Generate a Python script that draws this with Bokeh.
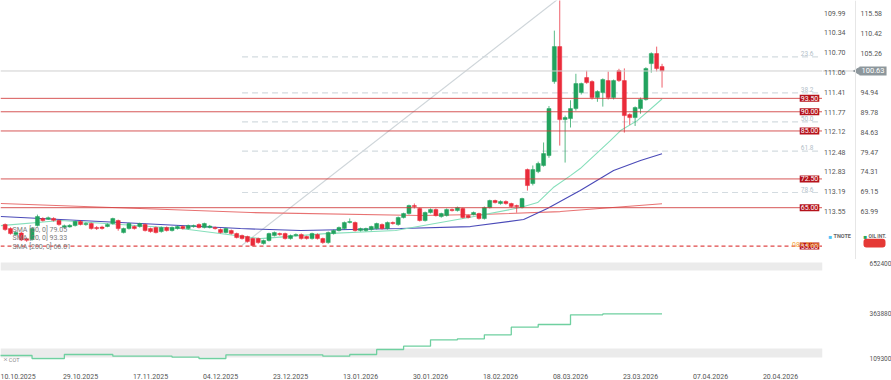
import math
from bokeh.plotting import figure
from bokeh.models import (Range1d, LinearAxis, FixedTicker, PrintfTickFormatter, Span,
                          Label, ColumnDataSource, BoxAnnotation)
from bokeh.layouts import column, row
from bokeh.embed import file_html
from bokeh.resources import INLINE
from bokeh.core.properties import value

# ---------------- data ----------------
date_idx = [0, 13, 26, 39, 52, 65, 78, 91, 104, 117, 130, 143]
date_labels = ["10.10.2025", "29.10.2025", "17.11.2025", "04.12.2025", "23.12.2025", "13.01.2026",
               "30.01.2026", "18.02.2026", "08.03.2026", "23.03.2026", "07.04.2026", "20.04.2026"]

first_idx = -1
opens = [60.61, 59.56, 57.99, 58.40, 56.90, 56.70, 60.34, 62.17, 62.00, 62.20, 61.65, 59.90, 60.00, 60.34,
         61.39, 60.60, 60.87, 59.82, 59.95, 60.10, 60.87, 61.65, 58.51, 59.56, 60.10, 60.10, 60.61, 59.56,
         59.82, 58.78, 59.82, 59.04, 59.56, 60.08, 59.56, 60.08, 60.61, 59.82, 59.82, 59.82, 59.30, 58.51,
         59.04, 58.25, 57.73, 57.48, 56.95, 56.95, 55.65, 56.44, 57.73, 58.25, 58.25, 56.95, 57.73, 57.99,
         57.48, 56.95, 57.99, 56.95, 55.91, 58.25, 59.04, 59.56, 61.13, 61.13, 59.04, 59.04, 59.30, 59.56,
         60.61, 59.56, 61.13, 60.61, 62.43, 63.47, 65.55, 64.77, 61.65, 63.73, 64.51, 62.69, 62.95, 64.51,
         64.25, 64.77, 62.95, 63.21, 63.47, 62.17, 65.03, 66.86, 66.08, 66.60, 66.08, 65.55, 65.03, 74.93,
         71.29, 74.41, 75.98, 78.58, 97.86, 106.98, 87.96, 88.22, 90.83, 95.00, 98.90, 97.86, 93.69, 95.00,
         98.12, 93.69, 100.73, 98.12, 89.26, 88.48, 90.83, 93.17, 102.55, 105.16, 101.77]
highs = [60.9, 59.9, 58.8, 58.7, 57.2, 59.9, 63.2, 62.5, 62.7, 62.5, 61.9, 60.6, 60.7, 61.6,
         61.8, 61.2, 61.1, 60.2, 60.3, 60.9, 62.4, 61.9, 59.8, 61.1, 60.4, 61.1, 60.9, 59.8,
         60.1, 60.1, 60.1, 60.1, 60.4, 60.4, 60.6, 60.6, 60.9, 61.1, 60.5, 60.1, 59.6, 59.8,
         59.3, 58.5, 58.0, 57.7, 57.2, 57.2, 56.7, 58.5, 58.8, 58.5, 58.5, 58.0, 58.3, 58.3,
         57.7, 58.5, 58.3, 57.2, 58.8, 59.3, 60.1, 61.4, 62.2, 61.4, 59.8, 59.8, 60.3, 61.1,
         60.9, 61.4, 61.4, 62.7, 63.7, 65.8, 66.1, 65.0, 64.0, 64.8, 64.8, 63.7, 64.8, 64.8,
         65.3, 65.0, 63.2, 64.0, 63.7, 65.3, 67.1, 67.1, 66.9, 66.9, 66.3, 65.8, 67.6, 75.2,
         76.0, 77.0, 82.0, 91.5, 111.15, 119.5, 89.0, 93.0, 99.9, 97.6, 100.7, 98.2, 95.6, 98.7,
         100.47, 98.4, 101.2, 101.3, 89.6, 91.4, 93.7, 101.6, 105.5, 106.98, 102.5]
lows = [59.0, 58.0, 57.7, 56.3, 56.1, 56.4, 60.1, 61.4, 61.8, 61.4, 60.3, 59.6, 59.8, 60.1,
        60.4, 60.3, 59.3, 59.2, 59.3, 59.9, 60.6, 59.0, 58.3, 59.3, 59.3, 59.8, 58.8, 58.5,
        58.3, 58.5, 58.8, 58.8, 59.3, 59.3, 59.3, 59.8, 59.6, 59.6, 59.6, 59.3, 58.3, 58.3,
        58.0, 57.0, 56.7, 55.9, 54.9, 55.6, 55.4, 56.2, 57.5, 57.7, 56.7, 56.7, 57.5, 56.7,
        56.7, 56.7, 56.7, 55.6, 55.6, 58.0, 58.8, 59.3, 60.9, 58.8, 58.8, 58.8, 59.0, 59.3,
        59.3, 59.3, 60.6, 60.3, 62.2, 63.2, 64.8, 61.4, 61.4, 63.5, 62.7, 62.4, 62.7, 64.0,
        64.0, 62.2, 62.2, 63.0, 61.9, 61.9, 64.8, 66.1, 65.8, 65.8, 65.0, 63.7, 64.8, 69.46,
        70.8, 74.0, 75.7, 78.0, 97.3, 81.19, 76.76, 85.9, 90.3, 94.5, 97.3, 93.2, 92.6, 91.35,
        93.2, 93.2, 97.8, 84.57, 86.6, 86.3, 89.5, 92.9, 100.2, 100.5, 96.3]
closes = [59.30, 58.25, 58.51, 56.60, 56.50, 59.60, 62.69, 61.65, 62.40, 61.70, 60.61, 60.30, 60.40, 61.39,
          60.61, 60.90, 59.56, 59.56, 59.60, 60.60, 62.17, 59.56, 59.56, 60.87, 59.56, 60.87, 59.04, 58.78,
          58.51, 59.82, 59.04, 59.82, 60.08, 59.56, 60.34, 60.34, 59.82, 60.87, 60.20, 59.56, 58.51, 59.56,
          58.25, 57.21, 56.95, 56.17, 55.13, 55.91, 56.44, 58.25, 58.51, 57.99, 56.95, 57.73, 57.99, 56.95,
          56.95, 58.25, 56.95, 55.91, 58.51, 59.04, 59.82, 61.13, 61.39, 59.04, 59.56, 59.56, 60.08, 60.87,
          59.56, 61.13, 60.87, 62.43, 63.47, 65.55, 65.29, 61.65, 63.73, 64.51, 62.95, 63.47, 64.51, 64.25,
          65.03, 62.43, 62.43, 63.73, 62.17, 65.03, 66.86, 66.34, 66.60, 66.08, 65.29, 65.29, 67.38, 70.77,
          74.93, 76.50, 79.10, 90.83, 106.98, 87.96, 88.48, 90.83, 97.34, 97.34, 97.60, 93.69, 95.26, 98.38,
          93.69, 98.12, 98.12, 89.00, 88.48, 91.09, 93.17, 101.25, 105.16, 101.25, 100.63]

sma20_x = [-1.8, 9.3, 20.4, 31.6, 41.8, 46.4, 58.5, 71.5, 85.1, 94.7, 97.9, 100.8, 104.0, 105.8, 111.4, 113.3, 116.4, 121]
sma20_y = [60.34, 61.65, 60.61, 59.56, 57.74, 56.95, 58.25, 59.04, 62.43, 65.03, 66.34, 70.25, 73.37, 75.20, 82.49, 85.10, 87.70, 93.33]
sma50_x = [-1.8, 20.4, 42.7, 53.9, 72.4, 85.4, 95.3, 99.7, 105.8, 112.0, 117.0, 121]
sma50_y = [62.69, 61.13, 59.56, 59.04, 59.56, 60.08, 61.91, 64.77, 69.46, 74.68, 77.28, 79.05]
sma200_x = [-1.8, 44.6, 76.1, 87.3, 102.1, 121]
sma200_y = [66.08, 63.73, 62.95, 63.21, 63.99, 66.01]

levels = [93.50, 90.00, 85.00, 72.50, 65.00]
level_labels = ["93.50", "90.00", "85.00", "72.50", "65.00"]
low_level = 55.00
last_price = 100.63

fib_high, fib_low = 119.5, 55.2
fib_ratios = [0.236, 0.382, 0.5, 0.618, 0.786]
fib_names = ["23.6", "38.2", "50.0", "61.8", "78.6"]
trend_x = [43, 101.8]
trend_y = [55.2, 119.5]

oil_ticks = [115.58, 110.42, 105.26, 94.94, 89.78, 84.63, 79.47, 74.31, 69.15, 63.99]
tnote_ticks = [109.99, 110.34, 110.70, 111.06, 111.41, 111.77, 112.12, 112.48, 112.83, 113.19, 113.55]

cot_x = [-2, 4, 10, 19, 30, 35, 40, 58, 63, 68, 73, 78, 83, 88, 93, 98, 104, 110, 121]
cot_y = [126500, 109300, 132200, 122500, 116800, 109300, 130500, 122500, 132200, 160800,
         179600, 216200, 221900, 244800, 288200, 303700, 359100, 363880, 363880]
cot_ticks = [109300, 363880, 652400]

sma_texts = ["SMA [50, 0] 79.05", "SMA [20, 0] 93.33", "SMA [200, 0] 66.01"]
sma_text_y = [59.30, 57.22, 54.87]

# ---------------- styling ----------------
FONT = "Roboto"
GREEN = "#22a35e"
RED = "#ea2b3a"
TXT = "#555555"
x_start, x_end = -1.86, 150.8
FW = 822
FH = 259
SW = 68
kx = FW / (x_end - x_start)


def px(v):
    return x_start + v / kx


yr = Range1d(51.5, 119.0)
p = figure(frame_width=FW, frame_height=FH, x_range=Range1d(x_start, x_end), y_range=yr,
           output_backend="svg", toolbar_location=None, x_axis_location=None, y_axis_location=None,
           min_border=0, outline_line_color=None)
p.xgrid.grid_line_color = None
p.ygrid.grid_line_color = None

# levels
for lv in levels:
    p.add_layout(Span(location=lv, dimension="width", line_color="#d03a3a", line_width=1, line_alpha=0.85))
p.add_layout(Span(location=low_level, dimension="width", line_color="#e04848", line_width=1.2,
                  line_dash="4 3"))
p.add_layout(Span(location=last_price, dimension="width", line_color="#cfcfcf", line_width=1))

# fib levels
fib_levels = [fib_high - r * (fib_high - fib_low) for r in fib_ratios]
for fl in fib_levels:
    p.segment(x0=trend_x[0], y0=fl, x1=x_end, y1=fl, line_color="#d3dbe0", line_width=1.2, line_dash="6 4")
p.line(trend_x, trend_y, line_color="#cfd6da", line_width=1.2)

# SMAs
p.line(sma200_x, sma200_y, line_color="#e87272", line_width=1.1)
p.line(sma50_x, sma50_y, line_color="#4a4ab8", line_width=1.1)
p.line(sma20_x, sma20_y, line_color="#86dfbb", line_width=1.1)

# candles
xs = list(range(first_idx, first_idx + len(opens)))
cols = [GREEN if c >= o else RED for o, c in zip(opens, closes)]
src = ColumnDataSource(dict(x=xs, o=opens, h=highs, l=lows, c=closes,
                            top=[max(o, c) for o, c in zip(opens, closes)],
                            bot=[min(o, c) for o, c in zip(opens, closes)], col=cols))
p.segment(x0="x", y0="h", x1="x", y1="l", line_color="col", line_width=1, line_alpha=0.75, source=src)
p.vbar(x="x", top="top", bottom="bot", width=0.74, fill_color="col", line_color="col", line_width=0.5,
       source=src)

# level labels
for lv, t in zip(levels + [low_level], level_labels + ["55.00"]):
    p.add_layout(Label(x=px(809), y=lv, text=t, text_align="center", text_baseline="middle",
                       text_font=FONT, text_font_size="7px", text_color="white",
                       background_fill_color="#b5121b", padding=1))
for fl, t in zip(fib_levels, fib_names):
    p.add_layout(Label(x=px(813), y=fl + 0.25, text=t, text_align="right", text_baseline="bottom",
                       text_font=FONT, text_font_size="6.5px", text_color="#b3c0c8"))

p.add_layout(Label(x=px(819), y=55.4, text="08h 58m", text_align="right", text_baseline="middle",
                   text_font=FONT, text_font_size="7px", text_color="#f5a43a"))

for t, ty in zip(sma_texts, sma_text_y):
    p.add_layout(Label(x=px(12), y=ty, text=t, text_baseline="middle",
                       text_font=FONT, text_font_size="7px", text_color="#7a7a7a"))

# ---------------- side (price scales) ----------------
s = figure(frame_width=SW, frame_height=FH, x_range=Range1d(0, SW), y_range=yr,
           output_backend="svg", toolbar_location=None, x_axis_location=None, y_axis_location=None,
           min_border=0, outline_line_color=None)
s.xgrid.grid_line_color = None
s.ygrid.grid_line_color = None
s.extra_y_ranges = {"tnote": Range1d(114.41, 109.76)}

s.add_layout(Span(location=33, dimension="height", line_color="#e6e6e6", line_width=1))
s.segment(x0=0, y0=last_price, x1=34, y1=last_price, line_color="#cfcfcf", line_width=1)

s.text(x=1.5, y=tnote_ticks, text=["%.2f" % t for t in tnote_ticks], y_range_name="tnote",
       text_font=value(FONT), text_font_size="7px", text_color=TXT, text_baseline="middle")
s.text(x=38, y=oil_ticks, text=["%.2f" % t for t in oil_ticks],
       text_font=value(FONT), text_font_size="7px", text_color=TXT, text_baseline="middle")

# price tag
s.scatter(x=[35], y=[last_price], marker="triangle", angle=math.pi / 2, size=7,
          fill_color="#8d979c", line_color="#8d979c")
s.add_layout(Label(x=37, y=last_price, text="100.63", text_baseline="middle", text_font=FONT,
                   text_font_size="7.5px", text_color="white", background_fill_color="#8d979c",
                   padding=2))

# legends
s.add_layout(Label(x=6, y=57.5, text="■", text_baseline="middle", text_font=FONT,
                   text_font_size="6px", text_color="#4fc3f7"))
s.add_layout(Label(x=11, y=57.5, text="TNOTE", text_baseline="middle", text_font=FONT,
                   text_font_size="5.5px", text_font_style="bold", text_color="#666666"))
s.add_layout(Label(x=41, y=57.5, text="■", text_baseline="middle", text_font=FONT,
                   text_font_size="6px", text_color="#26a65b"))
s.add_layout(Label(x=46, y=57.5, text="OIL INT.", text_baseline="middle", text_font=FONT,
                   text_font_size="5px", text_font_style="bold", text_color="#666666"))
s.add_layout(BoxAnnotation(left=41, right=63, bottom=54.6, top=56.9, fill_color="#e53935",
                           fill_alpha=1, line_color=None, border_radius=3))

# ---------------- COT panel ----------------
c = figure(frame_width=FW, frame_height=104, x_range=p.x_range, y_range=Range1d(80720, 675270),
           output_backend="svg", toolbar_location=None, x_axis_location=None, y_axis_location=None,
           min_border=0, outline_line_color=None)
c.xgrid.grid_line_color = None
c.ygrid.grid_line_color = None
c.add_layout(BoxAnnotation(bottom=612400, top=658100, fill_color="#ebebeb", fill_alpha=1,
                           line_color=None, level="underlay"))
c.add_layout(BoxAnnotation(bottom=115000, top=166500, fill_color="#ebebeb", fill_alpha=1,
                           line_color=None, level="underlay"))
c.step(cot_x, cot_y, mode="after", line_color="#6fd0a0", line_width=1.3)

ax_c = LinearAxis(ticker=FixedTicker(ticks=cot_ticks), formatter=PrintfTickFormatter(format="%d"))
ax_c.major_tick_line_color = None
ax_c.minor_tick_line_color = None
ax_c.axis_line_color = None
ax_c.major_label_text_font_size = "6.5px"
ax_c.major_label_text_font = FONT
ax_c.major_label_text_color = TXT
ax_c.major_label_standoff = 41
c.add_layout(ax_c, "right")

ax_x = LinearAxis(ticker=FixedTicker(ticks=date_idx),
                  major_label_overrides={i: t for i, t in zip(date_idx, date_labels)})
ax_x.major_tick_line_color = None
ax_x.minor_tick_line_color = None
ax_x.axis_line_color = None
ax_x.major_label_text_font_size = "7px"
ax_x.major_label_text_font = FONT
ax_x.major_label_text_color = TXT
ax_x.major_label_standoff = 4
c.add_layout(ax_x, "below")

c.add_layout(Label(x=px(2), y=84000, text="⨯ COT", text_baseline="bottom", text_font=FONT,
                   text_font_size="5.5px", text_color="#888888"))

layout = column(row(p, s), c)
open("out.html", "w").write(file_html(layout, INLINE))
